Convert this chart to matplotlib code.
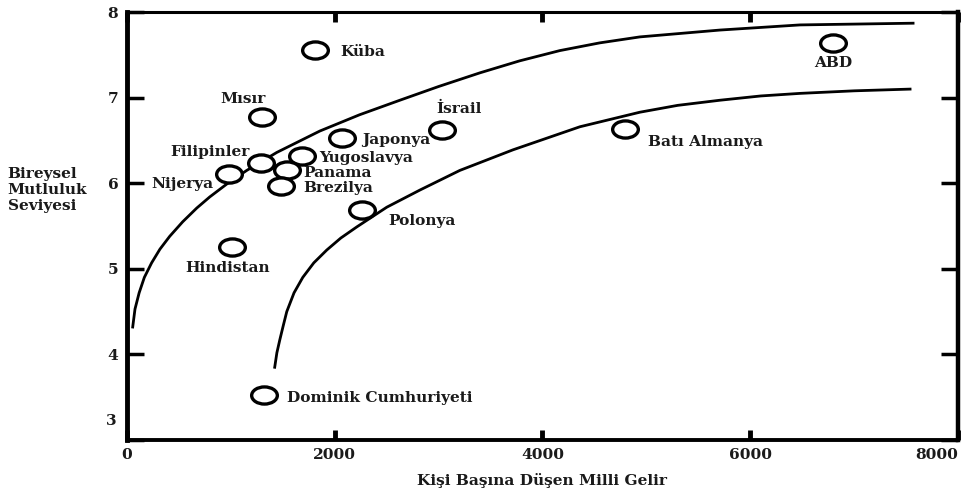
import matplotlib.pyplot as plt
from matplotlib.path import Path
from matplotlib.transforms import Affine2D, blended_transform_factory

# ulkeler ve degerler
countries = ['Küba', 'Mısır', 'Filipinler', 'Nijerya', 'Japonya', 'Yugoslavya',
             'Panama', 'Brezilya', 'İsrail', 'Polonya', 'Hindistan',
             'Dominik Cumhuriyeti', 'Batı Almanya', 'ABD']
income = [1810, 1300, 1290, 980, 2070, 1690, 1540, 1480, 3030, 2260, 1010,
          1320, 4790, 6790]
happiness = [7.56, 6.77, 6.24, 6.11, 6.53, 6.32, 6.15, 5.97, 6.62, 5.69, 5.25,
             3.53, 6.63, 7.64]

# egriler (resimden okunan noktalar)
upper_x = [58, 80, 120, 170, 240, 320, 414, 539, 674, 799, 962, 1155, 1444,
           1858, 2240, 2628, 3000, 3398, 3780, 4167, 4550, 4937, 5707, 6477,
           7565]
upper_y = [4.32, 4.53, 4.72, 4.90, 5.07, 5.23, 5.38, 5.55, 5.71, 5.84, 5.99,
           6.15, 6.36, 6.61, 6.80, 6.97, 7.13, 7.29, 7.43, 7.55, 7.64, 7.71,
           7.79, 7.85, 7.87]
lower_x = [1424, 1445, 1473, 1505, 1540, 1610, 1694, 1800, 1925, 2060, 2214,
           2502, 2820, 3205, 3715, 4360, 4937, 5300, 5707, 6100, 6477, 7000,
           7536]
lower_y = [3.85, 4.02, 4.17, 4.33, 4.50, 4.72, 4.90, 5.07, 5.22, 5.36, 5.49,
           5.72, 5.92, 6.15, 6.39, 6.66, 6.83, 6.91, 6.97, 7.02, 7.05, 7.08,
           7.10]

xticks = [0, 2000, 4000, 6000, 8000]
yticks = [4, 5, 6, 7, 8]

# etiket kaydirmalari (piksel) ve hizalama
offsets = {
    'Küba': (25, -2, 'left'), 'Mısır': (-19, 18, 'center'),
    'Filipinler': (-11, 11, 'right'), 'Nijerya': (-15, -10, 'right'),
    'Japonya': (20, -2, 'left'), 'Yugoslavya': (17, -2, 'left'),
    'Panama': (17, -3, 'left'), 'Brezilya': (23, -2, 'left'),
    'İsrail': (17, 21, 'center'), 'Polonya': (27, -11, 'left'),
    'Hindistan': (-4, -21, 'center'), 'Dominik Cumhuriyeti': (23, -3, 'left'),
    'Batı Almanya': (23, -13, 'left'), 'ABD': (1, -20, 'center'),
}

font = dict(family='DejaVu Serif', weight='bold', size=11.1, color='#1a1a1a')

fig = plt.figure(figsize=(9.67, 4.93), dpi=100)
ax = fig.add_axes([0.131, 0.1075, 0.86, 0.868])

ax.plot(upper_x, upper_y, color='black', lw=2.0, zorder=2,
        solid_joinstyle='round')
ax.plot(lower_x, lower_y, color='black', lw=2.0, zorder=2,
        solid_joinstyle='round')

ellipse = Path.unit_circle().transformed(Affine2D().scale(1.5, 1.0))
ax.scatter(income, happiness, marker=ellipse, s=18.5 ** 2, facecolors='white',
           edgecolors='black', linewidths=2.4, zorder=3)

for name, x, y in zip(countries, income, happiness):
    dx, dy, ha = offsets[name]
    ax.annotate(name, (x, y), xytext=(dx, dy), textcoords='offset pixels',
                ha=ha, va='center', **font)

ax.set_xlim(0, 8000)
ax.set_ylim(3, 8)
ax.set_xticks(xticks)
ax.set_xticklabels([str(v) for v in xticks], **font)
ax.get_xticklabels()[-1].set_ha('right')
ax.set_yticks([3] + yticks)
ax.set_yticklabels([''] + [str(v) for v in yticks], **font)
ax.tick_params(axis='both', direction='in', length=12, width=2.5,
               top=True, right=True, pad=6)
ax.tick_params(axis='x', length=7, width=3.5)

# y=3 etiketi biraz yukarida
trans = blended_transform_factory(ax.transAxes, ax.transData)
ax.text(-0.012, 3.22, '3', transform=trans, ha='right', va='center', **font)

ax.spines['left'].set_linewidth(3.5)
ax.spines['right'].set_linewidth(3.2)
ax.spines['bottom'].set_linewidth(2.8)
ax.spines['top'].set_linewidth(2.2)

ax.set_xlabel('Kişi Başına Düşen Milli Gelir', labelpad=8, **font)
fig.text(0.008, 0.615, 'Bireysel\nMutluluk\nSeviyesi', ha='left', va='center',
         linespacing=1.2, **font)

fig.savefig('out.png', dpi=100)
